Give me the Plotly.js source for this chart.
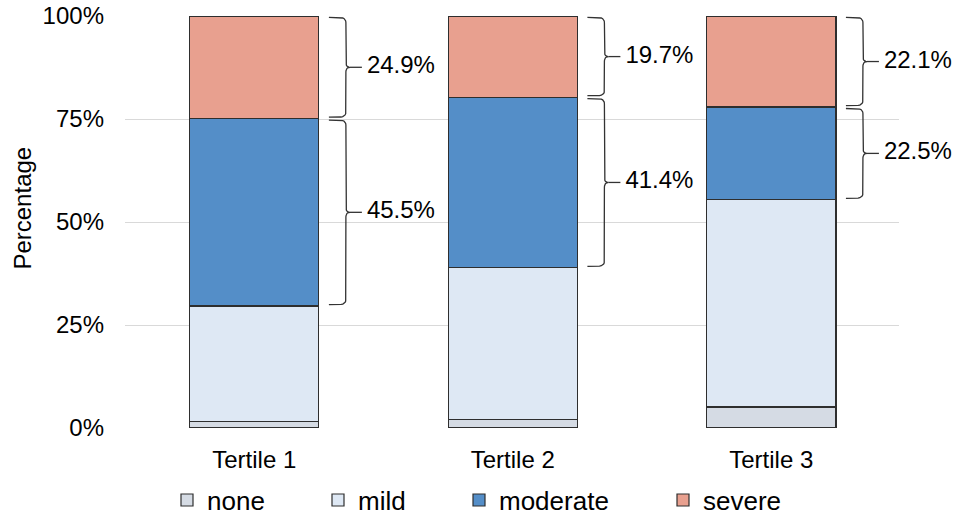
<!DOCTYPE html>
<html>
<head>
<meta charset="utf-8">
<script src="https://cdn.plot.ly/plotly-3.0.1.min.js"></script>
<style>
  html, body { margin: 0; padding: 0; background: #ffffff; }
  #chart { width: 954px; height: 519px; }
</style>
</head>
<body>
<div id="chart"></div>
<script>
// Severity distribution (percent of each tertile)
const categories = ['Tertile 1', 'Tertile 2', 'Tertile 3'];
const none     = [1.5, 2.0, 5.1];
const mild     = [28.1, 36.9, 50.3];
const moderate = [45.5, 41.4, 22.5];
const severe   = [24.9, 19.7, 22.1];

const seriesNames = ['none', 'mild', 'moderate', 'severe'];
const yTickVals = [0, 25, 50, 75, 100];
const yTickText = ['0%', '25%', '50%', '75%', '100%'];
const yAxisTitle = 'Percentage';

// Styling
const colors = {
  none: '#d5dbe4',
  mild: '#dee8f4',
  moderate: '#548ec8',
  severe: '#e8a08f'
};
const FONT = 'Liberation Sans, Arial, sans-serif';
const W = 954, H = 519;
const margin = { l: 125, r: 55, t: 16, b: 91, autoexpand: false };
const xRange = [-0.5, 2.494];
const yRange = [0, 100];
const barWidth = 0.5;

const plotW = W - margin.l - margin.r;
const plotH = H - margin.t - margin.b;
const pxX = (xRange[1] - xRange[0]) / plotW;   // data units per px (x)
const pxY = (yRange[1] - yRange[0]) / plotH;   // data units per px (y)

const xs = categories.map((_, i) => i);
const seriesData = { none, mild, moderate, severe };

const traces = [];
const legendIds = ['legend', 'legend2', 'legend3', 'legend4'];
seriesNames.forEach((name, k) => {
  traces.push({
    type: 'bar',
    name: name,
    x: xs,
    y: seriesData[name],
    width: barWidth,
    marker: { color: colors[name], line: { color: '#2e2e2e', width: 1.2 } },
    legend: legendIds[k],
    hoverinfo: 'name+y'
  });
});

// Curly brace to the right of a bar segment [lo, hi]
function quad(p0, p1, p2, n) {
  const pts = [];
  for (let j = 1; j <= n; j++) {
    const t = j / n;
    const a = (1 - t) * (1 - t), b = 2 * (1 - t) * t, c = t * t;
    pts.push([a * p0[0] + b * p1[0] + c * p2[0], a * p0[1] + b * p1[1] + c * p2[1]]);
  }
  return pts;
}

function bracePoints(i, lo, hi) {
  const right = i + barWidth / 2;
  const xa = right + 10 * pxX;      // arm ends
  const xv = right + 27 * pxX;      // spine
  const xt = right + 31 * pxX;      // tip
  const xd = right + 43 * pxX;      // leader end
  const inset = 0.35;
  const yt = hi - inset, yb = lo + inset, ym = (lo + hi) / 2;
  const r = 5 * pxY;                // corner radius (y)
  const c = 7 * pxX;                // corner radius (x)
  let pts = [[xa, yt], [xv - c, yt]];
  pts = pts.concat(quad([xv - c, yt], [xv, yt], [xv, yt - r], 6));
  pts.push([xv, ym + r]);
  pts = pts.concat(quad([xv, ym + r], [xv, ym], [xt, ym], 6));
  pts = pts.concat(quad([xt, ym], [xv, ym], [xv, ym - r], 6));
  pts.push([xv, yb + r]);
  pts = pts.concat(quad([xv, yb + r], [xv, yb], [xv - c, yb], 6));
  pts.push([xa, yb]);
  // leader line from the tip
  pts.push([null, null], [xt, ym], [xd, ym]);
  return { pts, labelX: xd + 5 * pxX, labelY: ym };
}

const bx = [], by = [], lx = [], ly = [], lt = [];
xs.forEach((xi, i) => {
  const base = none[i] + mild[i];
  const modTop = base + moderate[i];
  const sevTop = modTop + severe[i];
  [[base, modTop, moderate[i]], [modTop, sevTop, severe[i]]].forEach(([lo, hi, v]) => {
    const b = bracePoints(xi, lo, hi);
    b.pts.forEach(p => { bx.push(p[0]); by.push(p[1]); });
    bx.push(null); by.push(null);
    lx.push(b.labelX); ly.push(b.labelY); lt.push(v.toFixed(1) + '%');
  });
});

traces.push({
  type: 'scatter', mode: 'lines', x: bx, y: by,
  line: { color: '#333333', width: 1.3 },
  connectgaps: false, showlegend: false, hoverinfo: 'skip',
  cliponaxis: false
});
traces.push({
  type: 'scatter', mode: 'text', x: lx, y: ly, text: lt,
  textposition: 'middle right',
  textfont: { family: FONT, size: 24, color: '#000000' },
  showlegend: false, hoverinfo: 'skip',
  cliponaxis: false
});

// One legend per entry, so each key sits where it belongs under the axis
const legendTextStart = [167, 318, 459, 663];
const legendY = -0.175;
const legendCommon = {
  orientation: 'h', xanchor: 'left', yanchor: 'middle', y: legendY,
  font: { family: FONT, size: 26, color: '#000000' },
  bgcolor: 'rgba(0,0,0,0)', borderwidth: 0
};

const layout = {
  width: W, height: H,
  margin: margin,
  paper_bgcolor: '#ffffff', plot_bgcolor: '#ffffff',
  barmode: 'stack',
  bargap: 0.5,
  font: { family: FONT, color: '#000000' },
  xaxis: {
    range: xRange,
    tickvals: xs,
    ticktext: categories,
    showgrid: false, zeroline: false, showline: false,
    ticks: '',
    ticklabelstandoff: 15,
    tickfont: { family: FONT, size: 24, color: '#000000' }
  },
  yaxis: {
    range: yRange,
    tickvals: yTickVals,
    ticktext: yTickText,
    showgrid: true, gridcolor: '#d9d9d9', gridwidth: 1,
    zeroline: false, showline: false,
    ticks: '',
    ticklabelstandoff: 20,
    tickfont: { family: FONT, size: 24, color: '#000000' }
  },
  // vertical axis caption
  annotations: [{
    text: yAxisTitle,
    xref: 'paper', yref: 'paper',
    x: (23 - margin.l) / plotW, y: 0.535,
    xanchor: 'center', yanchor: 'middle',
    textangle: -90, showarrow: false,
    font: { family: FONT, size: 24, color: '#000000' }
  }],
  legend:  Object.assign({}, legendCommon, { x: (legendTextStart[0] - margin.l) / plotW }),
  legend2: Object.assign({}, legendCommon, { x: (legendTextStart[1] - margin.l) / plotW }),
  legend3: Object.assign({}, legendCommon, { x: (legendTextStart[2] - margin.l) / plotW }),
  legend4: Object.assign({}, legendCommon, { x: (legendTextStart[3] - margin.l) / plotW }),
  showlegend: true
};

Plotly.newPlot('chart', traces, layout, { displayModeBar: false, staticPlot: true });
</script>
</body>
</html>
